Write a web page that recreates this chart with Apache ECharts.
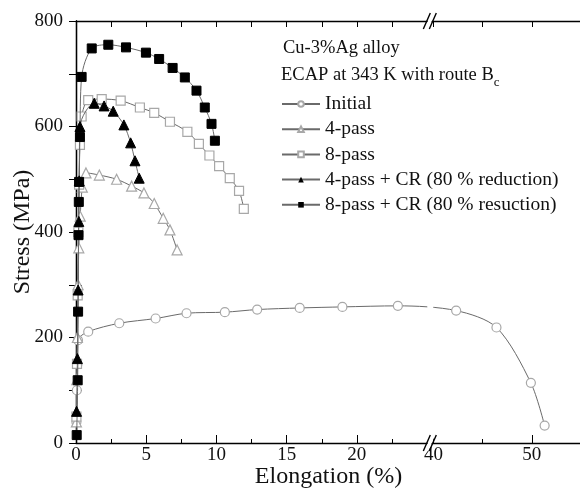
<!DOCTYPE html>
<html><head><meta charset="utf-8">
<script src="https://cdn.jsdelivr.net/npm/echarts@6/dist/echarts.min.js"></script>
<style>html,body{margin:0;padding:0;background:#fff}#c{width:580px;height:494px}</style>
</head><body><div id="c"></div>
<script>
// ---- data (elongation %, stress MPa) ----
const seriesNames = ['Initial', '4-pass', '8-pass', '4-pass + CR (80 % reduction)', '8-pass + CR (80 % resuction)'];
const initialX = [0.03, 0.06, 0.1, 0.14, 0.87, 3.08, 5.67, 7.87, 10.6, 12.9, 15.93, 18.97, 22.92, 42.3, 46.4, 49.9, 51.3];
const initialY = [40, 100, 150, 195, 211, 227, 236, 246, 248, 253, 256, 258, 260, 251, 219, 114, 33];
const pass4X = [0.03, 0.06, 0.1, 0.15, 0.2, 0.3, 0.45, 0.71, 1.66, 2.89, 3.96, 4.84, 5.57, 6.21, 6.69, 7.2];
const pass4Y = [40, 120, 200, 300, 370, 430, 485, 512, 508, 500, 487, 474, 454, 426, 404, 366];
const pass8X = [0.03, 0.07, 0.12, 0.17, 0.22, 0.28, 0.4, 0.87, 1.83, 3.18, 4.55, 5.57, 6.69, 7.93, 8.75, 9.5, 10.19, 10.95, 11.61, 11.95];
const pass8Y = [50, 150, 280, 400, 490, 565, 619, 650, 652, 649, 636, 626, 609, 590, 567, 545, 525, 502, 478, 444];
const cr4X = [0.04, 0.1, 0.15, 0.2, 0.23, 0.28, 1.3, 2.0, 2.65, 3.41, 3.89, 4.2, 4.5];
const cr4Y = [60, 160, 290, 420, 497, 600, 644, 639, 629, 603, 569, 535, 502];
const cr8X = [0.05, 0.12, 0.15, 0.18, 0.2, 0.22, 0.28, 0.4, 1.12, 2.3, 3.56, 4.98, 5.92, 6.88, 7.75, 8.58, 9.17, 9.65, 9.89];
const cr8Y = [15, 119, 249, 394, 457, 495, 580, 694, 748, 755, 750, 740, 728, 711, 693, 668, 636, 605, 573];
const xMajorTicks = [0, 5, 10, 15, 20, 40, 50];
const xMinorTicks = [2.5, 7.5, 12.5, 17.5, 22.5, 45];
const yMin = 0, yMax = 800;
const xMaxReal = 55;

// ---- broken x axis: 0..25 then 40..55 on a compressed scale ----
const breakStart = 25, breakEnd = 40, breakGap = 0.46, rightScale = 0.7;
function T(x) { return x <= breakStart ? x : breakStart + breakGap + (x - breakEnd) * rightScale; }
function inv(u) { return u <= breakStart + 0.01 ? u : breakEnd + (u - breakStart - breakGap) / rightScale; }
const FONT = 'Liberation Serif';

function pairs(xs, ys) { return xs.map((x, i) => [T(x), ys[i]]); }

const chart = echarts.init(document.getElementById('c'), null, {renderer: 'canvas'});
const lineCol = '#6a6a6a';
const openStyle = {color: '#fff', borderColor: '#a8a8a8', borderWidth: 1.2};
const mk = (name, xs, ys, symbol, size, item, z) => ({
  name, type: 'line', data: pairs(xs, ys), smooth: 0.3,
  symbol, symbolSize: size, showSymbol: true,
  lineStyle: {color: lineCol, width: 1},
  itemStyle: item, z, emphasis: {disabled: true}
});
const xBase = {type: 'value', min: 0, max: T(xMaxReal), splitLine: {show: false}};
const axisLineStyle = {lineStyle: {color: '#000', width: 1.3}};

chart.setOption({
  animation: false,
  backgroundColor: '#fff',
  grid: {left: 76, right: -1, top: 21, bottom: 51, containLabel: false, outerBoundsMode: 'none'},
  title: [
    {text: 'Cu-3%Ag alloy', left: 278, top: 34, textStyle: {fontFamily: FONT, fontSize: 18.5, fontWeight: 'normal', color: '#111'}},
    {text: 'ECAP at 343 K with route B{sub|c}', left: 276, top: 57,
     textStyle: {fontFamily: FONT, fontSize: 18.5, fontWeight: 'normal', color: '#111',
       rich: {sub: {fontFamily: FONT, fontSize: 13, color: '#111', padding: [14, 0, 0, 0]}}}}
  ],
  legend: {
    orient: 'vertical', left: 276, top: 89, itemWidth: 38, itemHeight: 7, itemGap: 5.2,
    data: seriesNames,
    textStyle: {fontFamily: FONT, fontSize: 19.5, color: '#111'},
    selectedMode: false
  },
  xAxis: [
    Object.assign({}, xBase, {position: 'bottom', axisLine: axisLineStyle,
      axisTick: {inside: true, length: 8, lineStyle: {color: '#000'}, customValues: xMajorTicks.map(T)},
      axisLabel: {customValues: xMajorTicks.map(T), formatter: v => String(Math.round(inv(v))),
        fontFamily: FONT, fontSize: 19, color: '#111', margin: 3},
      name: 'Elongation (%)', nameLocation: 'middle', nameGap: 22, nameMoveOverlap: false,
      nameTextStyle: {fontFamily: FONT, fontSize: 24, color: '#111'}}),
    Object.assign({}, xBase, {position: 'bottom', axisLine: {show: false},
      axisTick: {inside: true, length: 4, lineStyle: {color: '#000'}, customValues: xMinorTicks.map(T)},
      axisLabel: {show: false}}),
    Object.assign({}, xBase, {position: 'top', axisLine: axisLineStyle,
      axisTick: {inside: true, length: 6, lineStyle: {color: '#000'}, customValues: xMajorTicks.map(T)},
      axisLabel: {show: false}}),
    Object.assign({}, xBase, {position: 'top', axisLine: {show: false},
      axisTick: {inside: true, length: 6, lineStyle: {color: '#000'}, customValues: xMinorTicks.map(T)},
      axisLabel: {show: false}})
  ],
  yAxis: [
    {type: 'value', position: 'left', min: yMin, max: yMax, interval: 100, splitLine: {show: false},
     axisLine: Object.assign({show: true}, axisLineStyle),
     axisTick: {inside: true, length: 6, lineStyle: {color: '#000'}},
     axisLabel: {formatter: v => (v % 200 === 0 ? String(v) : ''), fontFamily: FONT, fontSize: 19, color: '#111', margin: 13},
     name: 'Stress (MPa)', nameLocation: 'middle', nameGap: 41, nameMoveOverlap: false,
     nameTextStyle: {fontFamily: FONT, fontSize: 24, color: '#111'}},
    {type: 'value', position: 'right', min: yMin, max: yMax, interval: 100, splitLine: {show: false},
     axisLine: Object.assign({show: true}, axisLineStyle),
     axisTick: {inside: true, length: 7, lineStyle: {color: '#000'}},
     axisLabel: {show: false}}
  ],
  series: [
    mk(seriesNames[0], initialX, initialY, 'circle', 9, openStyle, 2),
    mk(seriesNames[1], pass4X, pass4Y, 'triangle', 10, openStyle, 2),
    mk(seriesNames[2], pass8X, pass8Y, 'rect', 9, openStyle, 2),
    mk(seriesNames[3], cr4X, cr4Y, 'triangle', 10, {color: '#000', borderColor: '#000'}, 3),
    mk(seriesNames[4], cr8X, cr8Y, 'rect', 9, {color: '#000', borderColor: '#000'}, 3)
  ]
});

// ---- break marks "//" on the bottom and top axis lines ----
const cx = chart.convertToPixel({xAxisIndex: 0}, breakStart + breakGap / 2);
const yb = chart.convertToPixel({yAxisIndex: 0}, yMin);
const yt = chart.convertToPixel({yAxisIndex: 0}, yMax);
const yc = chart.convertToPixel({yAxisIndex: 0}, Math.max(initialY[12], initialY[13]));
const gfx = [];
[yb, yt].forEach(y => {
  gfx.push({type: 'polygon', shape: {points: [[cx - 6, y + 8], [cx + 1, y - 8], [cx + 5, y - 8], [cx - 2, y + 8]]},
    style: {fill: '#fff'}, z: 100});
  gfx.push({type: 'line', shape: {x1: cx - 7, y1: y + 8, x2: cx, y2: y - 8}, style: {stroke: '#000', lineWidth: 1.4}, z: 101});
  gfx.push({type: 'line', shape: {x1: cx - 1, y1: y + 8, x2: cx + 6, y2: y - 8}, style: {stroke: '#000', lineWidth: 1.4}, z: 101});
});
gfx.push({type: 'rect', shape: {x: cx - 3, y: yc - 6, width: 6, height: 9}, style: {fill: '#fff'}, z: 100});
chart.setOption({graphic: gfx});
</script>
</body></html>
